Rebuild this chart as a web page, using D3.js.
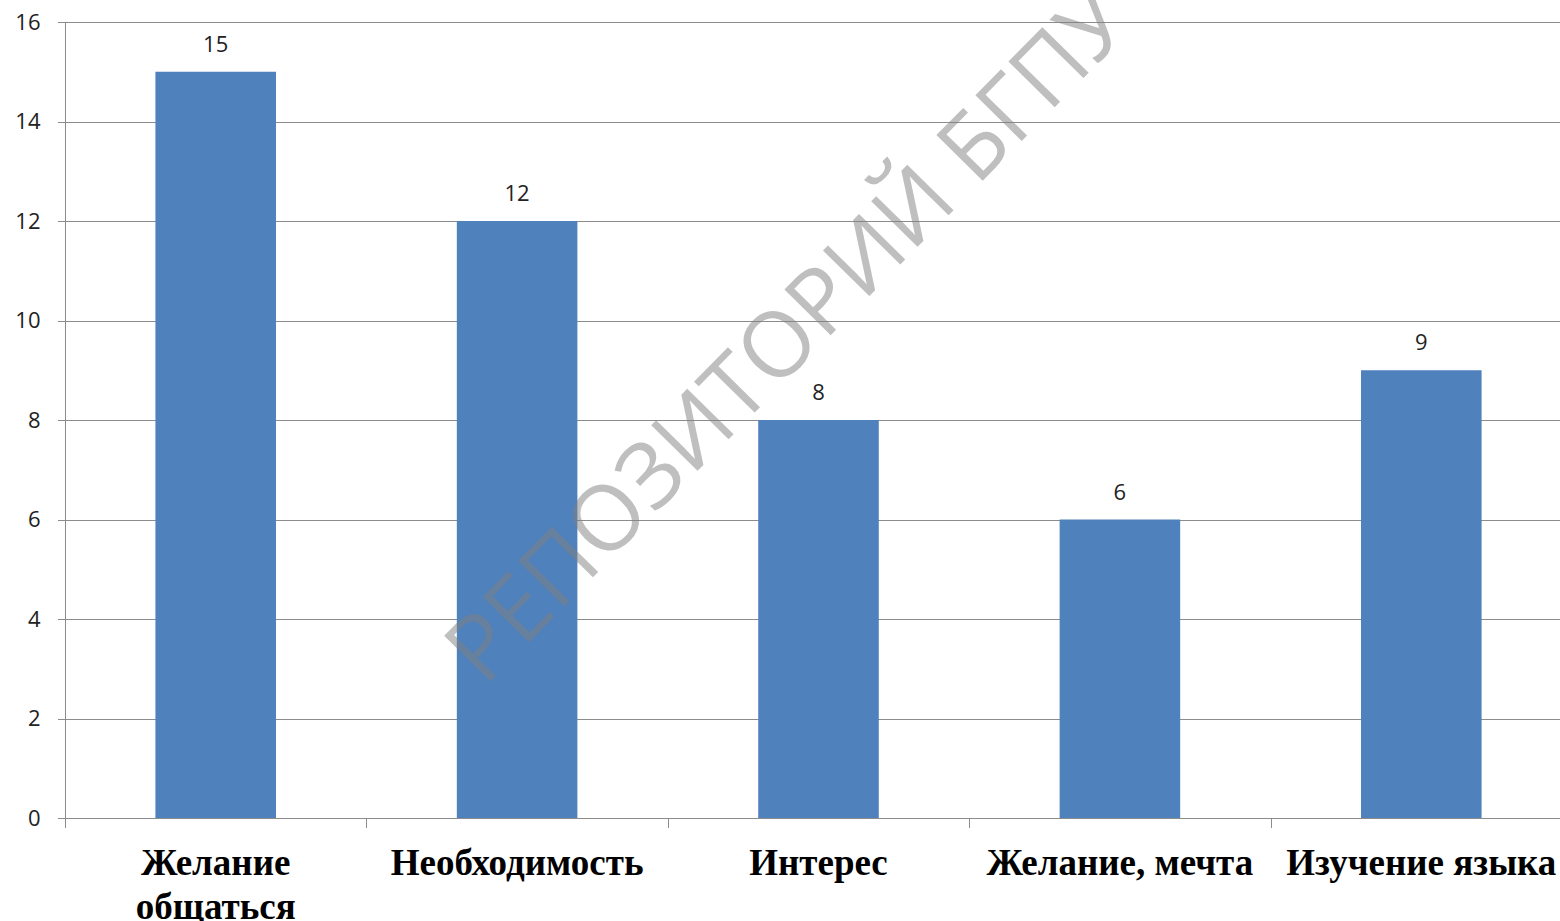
<!DOCTYPE html>
<html>
<head>
<meta charset="utf-8">
<script src="https://cdn.jsdelivr.net/npm/d3@7"></script>
<style>
  html, body { margin: 0; padding: 0; background: #fff; overflow: hidden; }
</style>
</head>
<body>
<div id="chart"></div>
<script>
var categories = ['Желание общаться', 'Необходимость', 'Интерес', 'Желание, мечта', 'Изучение языка'];
var values = [15, 12, 8, 6, 9];
var yTicks = [0, 2, 4, 6, 8, 10, 12, 14, 16];
var catLines = [['Желание', 'общаться'], ['Необходимость'], ['Интерес'], ['Желание, мечта'], ['Изучение языка']];

var width = 1560, height = 921;
var m = { left: 65, right: 1572, top: 22, bottom: 818 };

var svg = d3.select('#chart')
  .append('svg')
  .attr('width', width)
  .attr('height', height);

var x = d3.scaleBand()
  .domain(categories)
  .range([m.left, m.right])
  .paddingInner(0.6)
  .paddingOuter(0.3);

var y = d3.scaleLinear()
  .domain([0, 16])
  .range([m.bottom, m.top]);

// gridlines
svg.append('g')
  .selectAll('line')
  .data(yTicks)
  .join('line')
  .attr('x1', m.left - 7)
  .attr('x2', m.right)
  .attr('y1', d => Math.round(y(d)) + 0.5)
  .attr('y2', d => Math.round(y(d)) + 0.5)
  .attr('stroke', '#8c8c8c')
  .attr('stroke-width', 1);

// y axis
var yAxis = d3.axisLeft(y).tickValues(yTicks).tickSize(0).tickPadding(25);
var yg = svg.append('g')
  .attr('transform', 'translate(' + (m.left + 0.5) + ',0)')
  .call(yAxis);
yg.select('.domain').attr('stroke', '#8c8c8c').attr('d', 'M0,' + m.top + 'V' + (m.bottom + 10));
yg.selectAll('text')
  .attr('font-family', 'Open Sans, DejaVu Sans, sans-serif')
  .attr('font-size', 22)
  .attr('fill', '#222');

// x axis ticks between categories
var step = x.step();
var xTicks = d3.range(categories.length + 1).map(i => m.left + i * step);
svg.append('g')
  .selectAll('line')
  .data(xTicks)
  .join('line')
  .attr('x1', d => Math.round(d) + 0.5)
  .attr('x2', d => Math.round(d) + 0.5)
  .attr('y1', m.bottom)
  .attr('y2', m.bottom + 10)
  .attr('stroke', '#8c8c8c');

// bars
svg.append('g')
  .selectAll('rect')
  .data(values)
  .join('rect')
  .attr('x', (d, i) => x(categories[i]))
  .attr('width', x.bandwidth())
  .attr('y', d => y(d))
  .attr('height', d => m.bottom - y(d))
  .attr('fill', '#4f81bd');

// value labels
svg.append('g')
  .selectAll('text')
  .data(values)
  .join('text')
  .attr('x', (d, i) => x(categories[i]) + x.bandwidth() / 2)
  .attr('y', d => y(d) - 20)
  .attr('text-anchor', 'middle')
  .attr('font-family', 'Open Sans, DejaVu Sans, sans-serif')
  .attr('font-size', 22)
  .attr('fill', '#222')
  .text(d => d);

// category labels
var labels = svg.append('g')
  .selectAll('text')
  .data(categories)
  .join('text')
  .attr('x', d => x(d) + x.bandwidth() / 2)
  .attr('y', 875)
  .attr('text-anchor', 'middle')
  .attr('font-family', 'Liberation Serif, Times New Roman, serif')
  .attr('font-weight', 'bold')
  .attr('font-size', 37)
  .attr('fill', '#000');
labels.each(function(d, i) {
  d3.select(this).selectAll('tspan')
    .data(catLines[i])
    .join('tspan')
    .attr('x', x(d) + x.bandwidth() / 2)
    .attr('dy', (t, j) => j == 0 ? 0 : 44)
    .text(t => t);
});

// watermark
svg.append('text')
  .attr('transform', 'translate(792,340) rotate(-45.5)')
  .attr('text-anchor', 'middle')
  .attr('dominant-baseline', 'middle')
  .attr('font-family', 'Open Sans, Liberation Sans, sans-serif')
  .attr('font-weight', 400)
  .attr('font-size', 91)
  .attr('fill', '#808080')
  .attr('fill-opacity', 0.5)
  .text('РЕПОЗИТОРИЙ БГПУ');
</script>
</body>
</html>
